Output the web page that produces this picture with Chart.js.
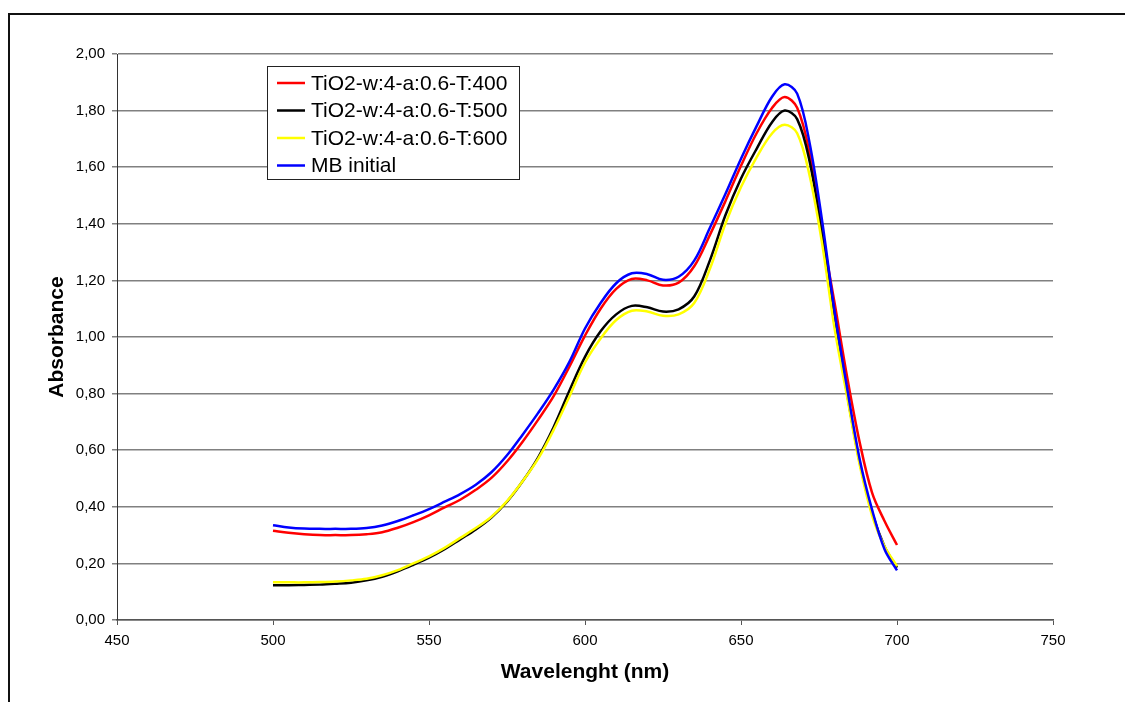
<!DOCTYPE html>
<html lang="en">
<head>
  <meta charset="UTF-8">
  <title>Absorbance spectra</title>
  <style>
    html, body { margin: 0; padding: 0; background: #fff; }
    .chart-wrap { width: 1125px; height: 702px; position: relative; }
  </style>
  <script src="https://cdn.jsdelivr.net/npm/chart.js"></script>
</head>
<body>
  <div class="chart-wrap">
    <canvas id="specChart" width="1125" height="702"></canvas>
  </div>
  <script>
    // --- data ---
    const wavelength = [500,505,510,515,520,525,530,535,540,545,550,555,560,565,570,575,580,585,590,595,
                        600,605,610,615,620,625,630,635,640,645,650,655,660,664,668,672,676,680,684,688,692,696,700];
    const t400 = [0.315,0.308,0.303,0.300,0.300,0.300,0.303,0.310,0.326,0.346,0.370,0.398,0.425,0.460,0.502,0.560,0.630,0.708,0.792,0.895,
                  1.005,1.100,1.170,1.205,1.200,1.182,1.192,1.250,1.360,1.480,1.605,1.720,1.810,1.848,1.810,1.650,1.370,1.120,0.860,0.630,0.450,0.350,0.265];
    const t500 = [0.123,0.123,0.124,0.125,0.128,0.132,0.140,0.153,0.172,0.195,0.220,0.250,0.285,0.320,0.362,0.418,0.490,0.575,0.683,0.810,
                  0.930,1.020,1.080,1.110,1.105,1.090,1.098,1.143,1.270,1.430,1.560,1.665,1.760,1.800,1.770,1.620,1.360,1.070,0.800,0.560,0.380,0.260,0.185];
    const t600 = [0.133,0.133,0.133,0.134,0.136,0.140,0.146,0.158,0.176,0.200,0.225,0.255,0.290,0.325,0.365,0.420,0.490,0.570,0.673,0.790,
                  0.910,0.995,1.060,1.093,1.090,1.075,1.080,1.120,1.240,1.400,1.530,1.635,1.720,1.750,1.720,1.570,1.330,1.030,0.790,0.550,0.370,0.260,0.190];
    const mbInitial = [0.335,0.327,0.323,0.322,0.322,0.322,0.325,0.334,0.350,0.370,0.392,0.418,0.445,0.478,0.522,0.582,0.655,0.732,0.815,0.912,
                  1.030,1.120,1.190,1.225,1.222,1.202,1.213,1.270,1.385,1.505,1.630,1.745,1.850,1.893,1.860,1.685,1.410,1.090,0.820,0.570,0.390,0.250,0.175];

    const seriesNames = ['TiO2-w:4-a:0.6-T:400', 'TiO2-w:4-a:0.6-T:500', 'TiO2-w:4-a:0.6-T:600', 'MB initial'];
    const seriesColors = ['#ff0000', '#000000', '#ffff00', '#0000ff'];
    const seriesValues = [t400, t500, t600, mbInitial];

    const xTicks = [450, 500, 550, 600, 650, 700, 750];
    const yTicks = [0, 0.2, 0.4, 0.6, 0.8, 1.0, 1.2, 1.4, 1.6, 1.8, 2.0];

    const FONT = 'Liberation Sans, Arial, sans-serif';

    // later series on top, like the original
    const datasets = seriesValues.map((vals, i) => ({
      label: seriesNames[i],
      data: vals.map((v, k) => ({ x: wavelength[k], y: v })),
      borderColor: seriesColors[i],
      borderWidth: 2.5,
      pointRadius: 0,
      fill: false,
      tension: 0.35,
      order: seriesValues.length - i
    }));

    // legend box, axis titles and outer frame
    const extrasPlugin = {
      id: 'extras',
      afterDraw(chart) {
        const ctx = chart.ctx;
        const area = chart.chartArea;
        ctx.save();

        // outer frame (cut off at right and bottom)
        ctx.strokeStyle = '#111';
        ctx.lineWidth = 2;
        ctx.beginPath();
        ctx.moveTo(9, 702);
        ctx.lineTo(9, 14);
        ctx.lineTo(1125, 14);
        ctx.stroke();

        // axis titles
        ctx.fillStyle = '#000';
        ctx.font = 'bold 21px ' + FONT;
        ctx.textAlign = 'center';
        ctx.textBaseline = 'middle';
        ctx.fillText('Wavelenght (nm)', (area.left + area.right) / 2, 672);
        ctx.save();
        ctx.translate(57, (area.top + area.bottom) / 2);
        ctx.rotate(-Math.PI / 2);
        ctx.fillText('Absorbance', 0, 0);
        ctx.restore();

        // legend
        const lx = 267, ly = 66, lw = 252, lh = 113;
        ctx.fillStyle = '#fff';
        ctx.fillRect(lx, ly, lw, lh);
        ctx.strokeStyle = '#222';
        ctx.lineWidth = 1;
        ctx.strokeRect(lx + 0.5, ly + 0.5, lw, lh);
        ctx.font = '21px ' + FONT;
        ctx.textAlign = 'left';
        seriesNames.forEach((name, i) => {
          const cy = ly + 17 + i * 27.5;
          ctx.strokeStyle = seriesColors[i];
          ctx.lineWidth = 2.5;
          ctx.beginPath();
          ctx.moveTo(277, cy);
          ctx.lineTo(305, cy);
          ctx.stroke();
          ctx.fillStyle = '#000';
          ctx.fillText(name, 311, cy + 1);
        });
        ctx.restore();
      }
    };

    new Chart(document.getElementById('specChart'), {
      type: 'line',
      data: { datasets: datasets },
      plugins: [extrasPlugin],
      options: {
        responsive: false,
        animation: false,
        layout: { padding: { left: 0, top: 54, right: 72, bottom: 0 } },
        plugins: {
          legend: { display: false },
          tooltip: { enabled: false }
        },
        scales: {
          x: {
            type: 'linear',
            min: 450,
            max: 750,
            afterBuildTicks: (scale) => { scale.ticks = xTicks.map(v => ({ value: v })); },
            afterFit: (scale) => { scale.height = 82; },
            grid: { drawOnChartArea: false, tickLength: 5, color: '#555' },
            border: { color: '#555', width: 1.5 },
            ticks: { color: '#000', font: { family: FONT, size: 15 }, padding: 7 }
          },
          y: {
            min: 0,
            max: 2,
            afterBuildTicks: (scale) => { scale.ticks = yTicks.map(v => ({ value: v })); },
            afterFit: (scale) => { scale.width = 117; },
            grid: { color: '#808080', lineWidth: 1.5, tickLength: 5 },
            border: { color: '#333', width: 1 },
            ticks: {
              color: '#000',
              font: { family: FONT, size: 15 },
              padding: 7,
              callback: (v) => v.toFixed(2).replace('.', ',')
            }
          }
        }
      }
    });
  </script>
</body>
</html>
